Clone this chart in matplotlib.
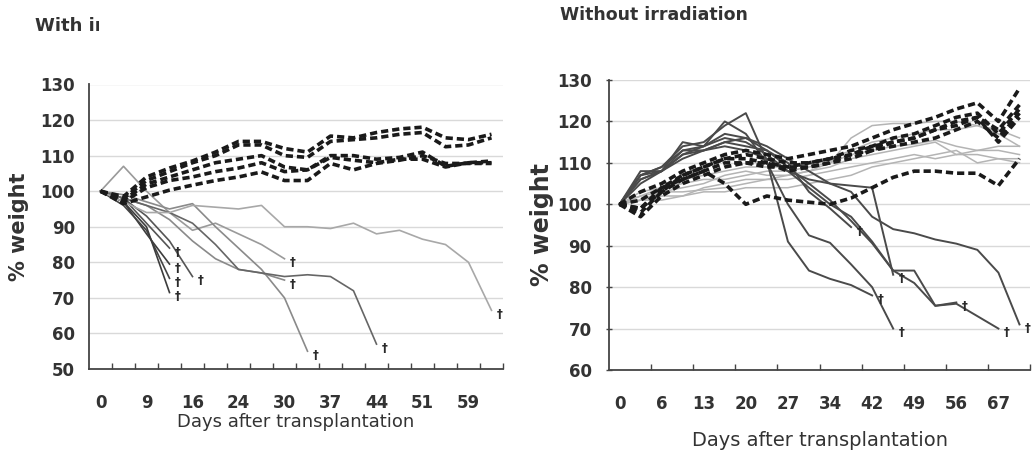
import matplotlib
matplotlib.use('Agg')
import matplotlib.pyplot as plt
import numpy as np
from matplotlib.transforms import Bbox, TransformedBbox

# category days on each x axis (only every second one is labelled)
irr_days = [0, 5, 9, 13, 16, 20, 24, 27, 30, 34, 37, 41, 44, 48, 51, 55, 59, 62]
ctl_days = [0, 3, 6, 10, 13, 17, 20, 24, 27, 31, 34, 38, 42, 45, 49, 52, 56, 63, 67, 70]

# --- with irradiation: % of starting weight per mouse ---
irr_alive = [
    [100, 98.5, 104, 106.5, 108.5, 111, 114, 114, 112, 111, 115.5, 115, 116.5, 117.5, 118, 115, 114.5, 116],
    [100, 98, 103, 105.5, 108, 110, 113, 113, 110, 109.5, 114, 114.5, 115, 116, 116.5, 112.5, 113, 115],
    [100, 97.5, 102, 104, 106, 108, 109, 110, 106.8, 106, 110, 110, 109, 109.5, 111, 107, 108, 108.5],
    [100, 97, 101, 103, 104, 105.5, 106.5, 108, 105.5, 106, 109.5, 108.7, 108, 109, 109, 106.8, 108, 108],
    [100, 96.5, 98.4, 100.3, 101.7, 103, 104, 105.4, 103, 103, 107.8, 106, 107.8, 108.7, 110, 107.8, 107.8, 107.8],
]
irr_dead = [
    [100, 97, 88, 79.5],
    [100, 96, 89, 75.5],
    [100, 97, 90, 71.5],
    [100, 98, 91, 84],
    [100, 98, 93, 86, 76],
    [100, 107, 100, 94, 89, 91, 88, 85, 81],
    [100, 98, 96, 92, 86, 81, 78, 77, 75],
    [100, 99, 97, 95, 96.5, 90, 84, 78, 70, 55],
    [100, 98, 96, 94, 91, 85, 78, 77, 76, 76.5, 76, 72, 57],
    [100, 97, 94, 94, 96, 95.5, 95, 96, 90, 90, 89.5, 91, 88, 89, 86.5, 85, 80, 66.5],
]
irr_dead_colors = ['#3c3c3c', '#444444', '#3c3c3c', '#555555', '#555555',
                   '#9a9a9a', '#8a8a8a', '#8a8a8a', '#666666', '#a8a8a8']

# --- without irradiation ---
ctl_alive = [
    [100, 98, 103, 107, 109, 111, 112, 111, 110, 110, 111, 112, 113, 114, 115, 116, 118, 120, 116, 122],
    [100, 103, 105, 108, 110, 112, 113, 112, 111, 112, 113, 114, 116, 118, 119.5, 121, 123, 124.5, 120, 128],
    [100, 99, 104, 107, 109, 111, 111, 110, 109, 110, 111, 113, 114, 116, 117, 119, 121, 122, 117, 123],
    [100, 101, 104, 106, 108, 110, 110, 109, 109, 109, 110, 112, 114, 115, 116, 118, 120, 121, 115, 121],
    [100, 97, 102, 105, 107, 109, 110, 110, 108, 109, 110, 111, 113, 115, 116, 118, 119, 121, 118, 124],
    [100, 99, 103, 106, 108, 105, 100, 102, 101, 100.5, 100, 101.5, 104, 106.5, 108, 108, 107.5, 107.5, 104.5, 111],
]
ctl_light = [
    [100, 102, 103, 104, 105, 107, 108, 107, 107, 108, 110, 116, 119, 119.5, 119.5, 120, 120, 119, 117, 114],
    [100, 101, 102, 102, 104, 105, 106, 106, 107, 108, 109, 111, 112, 113, 114, 115, 112, 113, 114, 114],
    [100, 101, 103, 103, 103.5, 104, 105, 106, 106, 107, 108, 109, 110, 111, 112, 111, 112, 112, 111, 111],
    [100, 102, 104, 105, 106, 106, 107, 108, 108, 109, 110, 112, 113, 114, 114.5, 115.5, 114, 113, 113, 112],
    [100, 103, 104, 106, 107, 108, 109, 109, 109, 110, 111, 113, 115, 116, 117, 118, 118, 119, 118, 116],
    [100, 101, 101, 102, 103, 103, 104, 104, 104, 105, 106, 107, 109, 110, 111, 112, 113, 110, 111, 110],
]
ctl_dead = [
    [100, 106, 108, 113, 113, 115, 114, 113, 110, 103, 99, 94.5],
    [100, 105, 108, 111, 113, 114, 113, 111, 108, 106, 105, 104.5, 104, 83],
    [100, 107, 109, 114, 115, 119, 122, 110.5, 91, 84, 82, 80.5, 78],
    [100, 108, 108, 115, 114, 120, 117, 110, 100, 92.5, 90.7, 85.5, 80, 70],
    [100, 106, 108, 112, 114, 117, 116, 113, 109, 105, 101, 96, 90.6, 84, 84, 75.5, 76.3],
    [100, 107, 109, 113, 114, 116, 115, 112, 108, 104, 100, 97, 91, 84, 81, 75.5, 76, 73, 70],
    [100, 107, 108, 112, 113, 115, 116, 114, 111, 108, 105, 103, 97, 94, 93, 91.5, 90.5, 89, 83.5, 71],
]

TXT = '#333333'
DASH = (0, (2.0, 1.1))

fig = plt.figure(figsize=(10.34, 4.54), dpi=100)
fig.patch.set_facecolor('white')

ax1 = fig.add_axes([89 / 1034, 1 - 369 / 454, 414 / 1034, 284.5 / 454])
ax2 = fig.add_axes([609 / 1034, 1 - 370 / 454, 421 / 1034, 290 / 454])


def dagger(ax, series):
    x = len(series) - 1
    ax.annotate('\u2020', xy=(x, series[-1]), xytext=(6, -3), textcoords='offset points',
                ha='center', va='center', fontsize=8.5, fontweight='bold', color='#2a2a2a',
                annotation_clip=False, zorder=6)


def style_axes(ax, days, lo, hi, tick_every, ylab_size, xlab_size, ylab_pad, xlab_pad):
    n = len(days)
    ax.set_xlim(-0.5, n - 0.5)
    ax.set_ylim(lo, hi)
    for s in ('top', 'right'):
        ax.spines[s].set_visible(False)
    for s in ('left', 'bottom'):
        ax.spines[s].set_color('#444444')
        ax.spines[s].set_linewidth(1.3)
    ax.set_yticks(np.arange(lo, hi + 1, 10))
    ax.set_xticks(np.arange(0, n, 2))
    ax.set_xticklabels([str(d) for d in days[::2]])
    ax.set_xticks(np.arange(tick_every - 0.5, n, tick_every), minor=True)
    ax.tick_params(axis='x', which='major', length=0, pad=18)
    ax.tick_params(axis='x', which='minor', direction='in', length=4, width=1, color='#444444')
    ax.tick_params(axis='y', length=0, pad=10)
    for lab in ax.get_xticklabels() + ax.get_yticklabels():
        lab.set_fontsize(12)
        lab.set_fontweight('bold')
        lab.set_color(TXT)
    for v in np.arange(lo + 10, hi + 1, 10):
        ax.axhline(v, color='#d9d9d9', lw=1, zorder=0)
    ax.set_ylabel('% weight', fontsize=ylab_size, fontweight='bold', color=TXT, labelpad=ylab_pad)
    ax.set_xlabel('Days after transplantation', fontsize=xlab_size, color=TXT, labelpad=xlab_pad)


# left panel
for s, c in zip(irr_dead, irr_dead_colors):
    ax1.plot(np.arange(len(s)), s, color=c, lw=1.2, zorder=2)
    dagger(ax1, s)
for s in irr_alive:
    ax1.plot(np.arange(len(s)), s, color='#1a1a1a', lw=2.6, ls=DASH, zorder=3)
style_axes(ax1, irr_days, 50, 130, 1, 15, 13, 8, 1)

# right panel
for s in ctl_light:
    ax2.plot(np.arange(len(s)), s, color='#b4b4b4', lw=1.1, zorder=1)
for s in ctl_dead:
    ax2.plot(np.arange(len(s)), s, color='#4a4a4a', lw=1.4, zorder=2)
    dagger(ax2, s)
for s in ctl_alive:
    ax2.plot(np.arange(len(s)), s, color='#1a1a1a', lw=2.6, ls=DASH, zorder=3)
style_axes(ax2, ctl_days, 60, 130, 2, 17, 14, 2, 13)
ax2.tick_params(axis='y', direction='inout', length=5, width=1, color='#444444')

# panel titles; the left one is cut off after the first letters
t = fig.text(35 / 1034, 1 - 31 / 454, 'With irradiation', fontsize=13, fontweight='bold',
             color=TXT, ha='left', va='baseline')
t.set_clip_box(TransformedBbox(Bbox([[0, 0], [99 / 1034, 1]]), fig.transFigure))
t.set_clip_on(True)
fig.text(560 / 1034, 1 - 20 / 454, 'Without irradiation', fontsize=12.5, fontweight='bold',
         color=TXT, ha='left', va='baseline')

fig.savefig('out.png', dpi=100)
